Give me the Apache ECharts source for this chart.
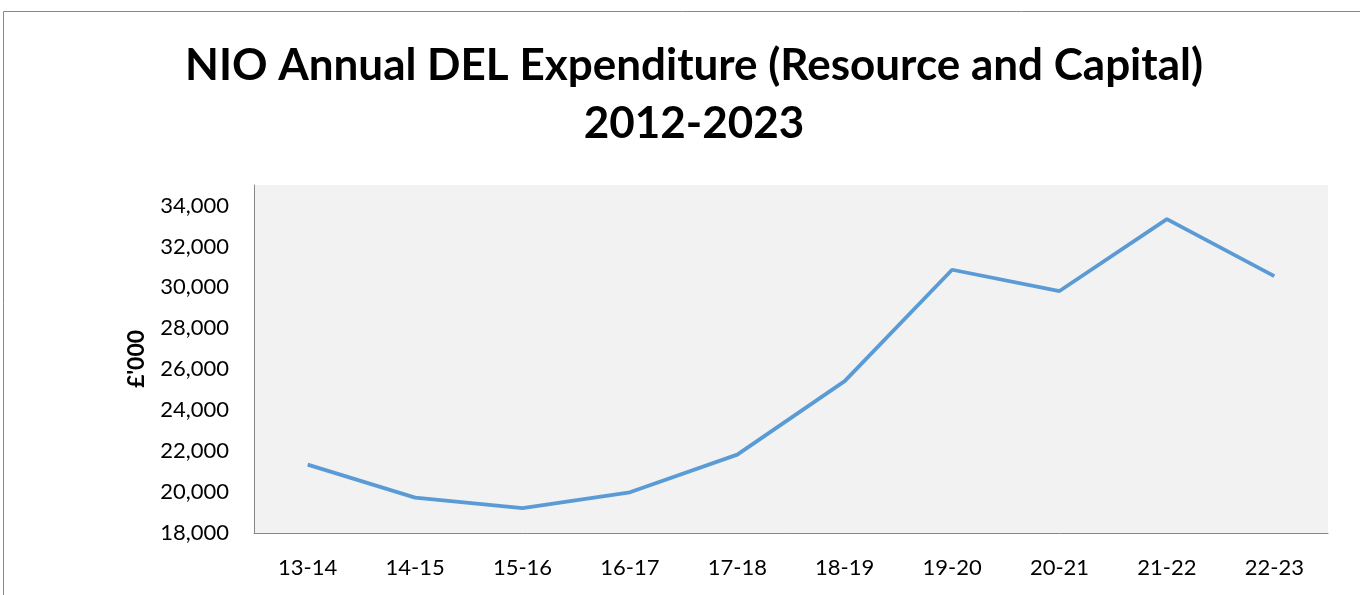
<!DOCTYPE html>
<html>
<head>
<meta charset="utf-8">
<script src="https://cdn.jsdelivr.net/npm/echarts@6/dist/echarts.min.js"></script>
<style>
html,body{margin:0;padding:0;background:#fff;}
#c{width:1360px;height:595px;}
</style>
</head>
<body>
<div id="c"></div>
<script>
const categories = ['13-14','14-15','15-16','16-17','17-18','18-19','19-20','20-21','21-22','22-23'];
const expenditure = [21340, 19730, 19210, 19990, 21830, 25420, 30860, 29820, 33330, 30550];
const titleLines = ['NIO Annual DEL Expenditure (Resource and Capital)', '2012-2023'];
const yAxisName = "£'000";

const chart = echarts.init(document.getElementById('c'));
const font = 'Lato, "Open Sans", sans-serif';
chart.setOption({
  animation: false,
  textStyle: { fontFamily: font },
  title: {
    text: titleLines.join('\n'),
    left: 689,
    textAlign: 'center',
    top: 32,
    textStyle: { fontFamily: font, fontSize: 44, fontWeight: 'bold', color: '#000', lineHeight: 58 }
  },
  graphic: [{
    type: 'rect',
    shape: { x: 3.5, y: 11.5, width: 1400, height: 700 },
    style: { fill: 'none', stroke: '#888', lineWidth: 1 },
    silent: true
  }],
  grid: {
    left: 254, right: 32, top: 185, bottom: 62,
    show: true, backgroundColor: '#f2f2f2', borderWidth: 0
  },
  xAxis: {
    type: 'category',
    data: categories,
    boundaryGap: true,
    axisLine: { lineStyle: { color: '#868686', width: 1 } },
    axisTick: { show: false },
    axisLabel: { color: '#000', fontSize: 22, margin: 24, fontFamily: font }
  },
  yAxis: {
    type: 'value',
    min: 18000, max: 35000, interval: 2000,
    name: yAxisName,
    nameLocation: 'middle',
    nameGap: 106,
    nameRotate: 90,
    nameTextStyle: { color: '#000', fontSize: 23, fontWeight: 'bold', fontFamily: font },
    axisLine: { show: true, lineStyle: { color: '#868686', width: 1 } },
    axisTick: { show: false },
    splitLine: { show: false },
    axisLabel: {
      color: '#000', fontSize: 22, margin: 25, fontFamily: font, showMaxLabel: false,
      formatter: v => v.toLocaleString('en-GB')
    }
  },
  series: [{
    type: 'line',
    data: expenditure,
    symbol: 'none',
    lineStyle: { color: '#5b9bd5', width: 3.8 },
    itemStyle: { color: '#5b9bd5' }
  }]
});
</script>
</body>
</html>
